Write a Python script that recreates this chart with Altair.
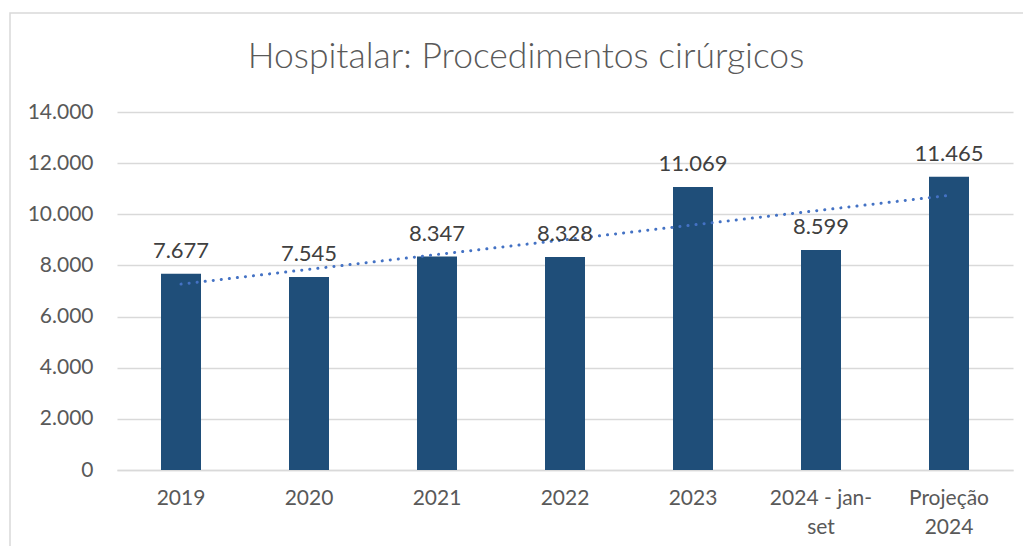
import altair as alt
import pandas as pd
import numpy as np

categories = ["2019", "2020", "2021", "2022", "2023", "2024 - jan-set", "Projeção 2024"]
values = [7677, 7545, 8347, 8328, 11069, 8599, 11465]
y_ticks = [0, 2000, 4000, 6000, 8000, 10000, 12000, 14000]
title_text = "Hospitalar: Procedimentos cirúrgicos"

# linear trendline (Excel style) over category index
idx = np.arange(1, len(values) + 1)
slope, intercept = np.polyfit(idx, values, 1)
trend = intercept + slope * idx

df = pd.DataFrame({
    "cat": categories,
    "val": values,
    "trend": trend,
    "label": [f"{v:,}".replace(",", ".") for v in values],
})

FONT = "Lato"
TXT = "#595959"

x_enc = alt.X(
    "cat:N", sort=categories, title=None,
    scale=alt.Scale(paddingInner=0.6875, paddingOuter=0.34375),
    axis=alt.Axis(
        labelAngle=0, tickSize=0, labelPadding=17, domainColor="#D9D9D9", domainWidth=1.5,
        labelFont=FONT, labelFontSize=21, labelColor=TXT, labelLineHeight=29,
        labelExpr="datum.label == '2024 - jan-set' ? ['2024 - jan-', 'set'] : datum.label == 'Projeção 2024' ? ['Projeção', '2024'] : datum.label",
    ),
)
y_scale = alt.Scale(domain=[0, 14000])
y_axis = alt.Axis(
    values=y_ticks, tickSize=0, labelPadding=24, domain=False, gridColor="#D9D9D9", gridWidth=1.5,
    labelFont=FONT, labelFontSize=21, labelColor=TXT,
    labelExpr="replace(format(datum.value, ','), ',', '.')",
)

base = alt.Chart(df)

bars = base.mark_bar(color="#1F4E79").encode(
    x=x_enc,
    y=alt.Y("val:Q", scale=y_scale, axis=y_axis, title=None),
)

line = base.mark_line(
    color="#4472C4", strokeWidth=3, strokeDash=[0.1, 8], strokeCap="round"
).encode(
    x=alt.X("cat:N", sort=categories, bandPosition=0.5),
    y=alt.Y("trend:Q", scale=y_scale),
)

labels = base.mark_text(
    font=FONT, fontSize=22, color="#404040", baseline="alphabetic", dy=-16
).encode(
    x=alt.X("cat:N", sort=categories, bandPosition=0.5),
    y=alt.Y("val:Q", scale=y_scale),
    text="label:N",
)

single = pd.DataFrame({"t": [title_text]})

border = alt.Chart(single).mark_rect(
    fillOpacity=0, stroke="#D9D9D9", strokeWidth=1.5
).encode(
    x=alt.value(-107), x2=alt.value(930), y=alt.value(-99), y2=alt.value(460)
)

title = alt.Chart(single).mark_text(
    font=FONT, fontSize=35.5, fontWeight=300, color=TXT, align="center", baseline="alphabetic"
).encode(
    x=alt.value(409), y=alt.value(-44), text="t:N"
)

chart = alt.layer(border, bars, line, labels, title).properties(
    width=896, height=358,
    autosize=alt.AutoSizeParams(type="none"),
    padding={"left": 109, "top": 104, "right": 10, "bottom": 76},
).configure_view(stroke=None)

chart.save("out.html", embed_options={"renderer": "svg", "actions": False})
